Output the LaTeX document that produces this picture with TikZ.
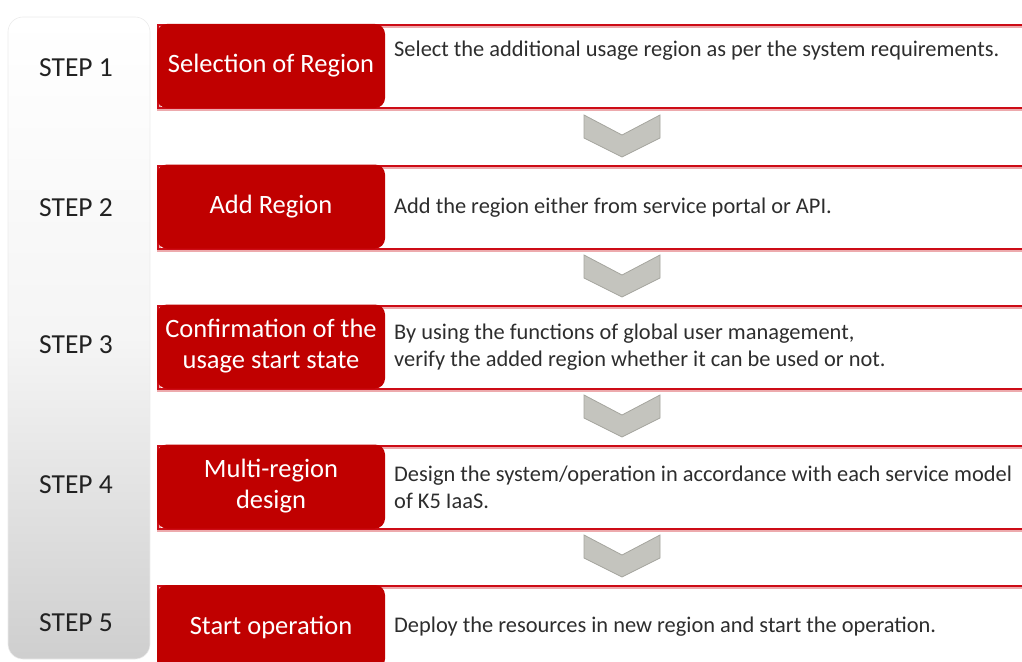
\documentclass[tikz,border=0pt]{standalone}
\usepackage{fontspec}
\setmainfont{Carlito}
\definecolor{stepred}{RGB}{192,0,0}
\definecolor{lineRed}{RGB}{205,12,22}
\definecolor{chevfill}{RGB}{196,196,190}
\definecolor{chevedge}{RGB}{165,165,158}
\definecolor{labelgray}{RGB}{34,34,34}
\definecolor{textgray}{RGB}{45,45,45}
\begin{document}
\begin{tikzpicture}[x=1pt,y=-1pt,
  column/.style={rounded corners=15pt, minimum width=142pt, minimum height=642pt,
    top color=white, bottom color=black!19, middle color=black!4,
    draw=black!8, line width=0.6pt},
  steplabel/.style={text=labelgray, font=\fontsize{27.5}{32}\selectfont},
  titlebox/.style={fill=stepred, rounded corners=10pt, minimum width=228pt,
    minimum height=84pt, text=white, align=center, inner sep=2pt,
    font=\fontsize{26.5}{31}\selectfont},
  descbox/.style={draw=lineRed, line width=1.8pt, minimum width=880pt,
    minimum height=83pt, anchor=north west, inner sep=0pt},
  descglow/.style={draw=lineRed!35, line width=4pt, minimum width=880pt,
    minimum height=83pt, anchor=north west, inner sep=0pt},
  desctext/.style={text=textgray, anchor=west, align=left, inner sep=0pt,
    font=\fontsize{22.4}{27}\selectfont},
  chevron/.pic={
    \path[fill=chevfill, draw=chevedge, line width=0.8pt, line join=miter]
      (-38,0) -- (0,20) -- (38,0) -- (38,23) -- (0,42) -- (-38,23) -- cycle;
  }]
\useasboundingbox (0,0) rectangle (1022,661);
\clip (0,0) rectangle (1022,661);

% left column with the step numbers
\node[column] (col) at (79,338) {};
\node[steplabel] (s1) at (76,68)  {STEP 1};
\node[steplabel] (s2) at (76,208) {STEP 2};
\node[steplabel] (s3) at (76,345) {STEP 3};
\node[steplabel] (s4) at (76,485) {STEP 4};
\node[steplabel] (s5) at (76,623) {STEP 5};

% description frames (open to the right)
\foreach \y/\n in {24/1,165/2,305/3,445/4,585/5}{
  \node[descglow] at (157,\y) {};
  \node[descbox] (d\n) at (157,\y) {};
}

% red title boxes
\node[titlebox] (t1) at (271,66)  {Selection of Region};
\node[titlebox] (t2) at (271,206.5) {Add Region};
\node[titlebox] (t3) at (271,346.5) {Confirmation of the\\usage start state};
\node[titlebox] (t4) at (271,486.5) {Multi-region\\design};
\node[titlebox] (t5) at (271,627) {Start operation};

% descriptions
\node[desctext] (x1) at (394,51)  {Select the additional usage region as per the system requirements.};
\node[desctext] (x2) at (394,208) {Add the region either from service portal or API.};
\node[desctext] (x3) at (394,347) {By using the functions of global user management,\\verify the added region whether it can be used or not.};
\node[desctext] (x4) at (394,487) {Design the system/operation in accordance with each service model\\of K5 IaaS.};
\node[desctext] (x5) at (394,627) {Deploy the resources in new region and start the operation.};

% chevrons between the steps
\pic at (622,115) {chevron};
\pic at (622,255) {chevron};
\pic at (622,395) {chevron};
\pic at (622,535) {chevron};
\end{tikzpicture}
\end{document}
